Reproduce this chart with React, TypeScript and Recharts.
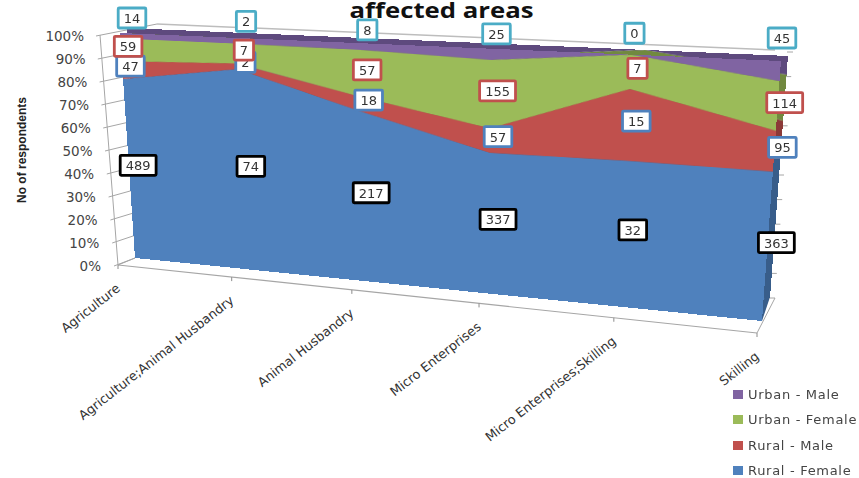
import React from 'react';
import { AreaChart, Area, XAxis, YAxis, Legend } from 'recharts';

const categories = [
  'Agriculture',
  'Agriculture;Animal Husbandry',
  'Animal Husbandry',
  'Micro Enterprises',
  'Micro Enterprises;Skilling',
  'Skilling',
];
const ruralFemale = [489, 74, 217, 337, 32, 363];
const ruralMale = [47, 2, 18, 57, 15, 95];
const urbanFemale = [59, 7, 57, 155, 7, 114];
const urbanMale = [14, 2, 8, 25, 0, 45];
const percentTicks = [0, 0.1, 0.2, 0.3, 0.4, 0.5, 0.6, 0.7, 0.8, 0.9, 1];

const seriesNames = ['Rural - Female', 'Rural - Male', 'Urban - Female', 'Urban - Male'];
const seriesValues = [ruralFemale, ruralMale, urbanFemale, urbanMale];
const seriesColors = ['#4F81BD', '#C0504D', '#9BBB59', '#8064A2'];
const sideColors = ['#385D8A', '#8C3A38', '#71893F', '#5E4A7E'];
const labelBorders = ['#000000', '#4F81BD', '#C0504D', '#4BACC6'];

const data = categories.map((name, i) => ({
  name,
  s0: ruralFemale[i],
  s1: ruralMale[i],
  s2: urbanFemale[i],
  s3: urbanMale[i],
}));

// the flat chart gets bent onto these corners (tl, tr, br, bl) to fake Excel's 3D look
const PW = 600;
const PH = 300;
const frontQuad = [120, 33, 781, 61, 762, 321, 135, 258];
const backQuad = [127, 28, 788, 56, 770, 298, 142, 250];

function homography(q: number[]) {
  const [x0, y0, x1, y1, x2, y2, x3, y3] = q;
  const dx1 = x1 - x2, dx2 = x3 - x2, sx = x0 - x1 + x2 - x3;
  const dy1 = y1 - y2, dy2 = y3 - y2, sy = y0 - y1 + y2 - y3;
  const den = dx1 * dy2 - dx2 * dy1;
  const g = (sx * dy2 - dx2 * sy) / den;
  const h = (dx1 * sy - sx * dy1) / den;
  return {
    a: x1 - x0 + g * x1, b: x3 - x0 + h * x3, c: x0,
    d: y1 - y0 + g * y1, e: y3 - y0 + h * y3, f: y0,
    g, h,
  };
}

function cssMatrix(q: number[]) {
  const m = homography(q);
  const v = [
    m.a / PW, m.d / PW, 0, m.g / PW,
    m.b / PH, m.e / PH, 0, m.h / PH,
    0, 0, 1, 0,
    m.c, m.f, 0, 1,
  ];
  return `matrix3d(${v.join(',')})`;
}

function project(u: number, v: number) {
  const m = homography(frontQuad);
  const w = m.g * u + m.h * v + 1;
  return { x: (m.a * u + m.b * v + m.c) / w, y: (m.d * u + m.e * v + m.f) / w };
}

const font = '"DejaVu Sans", sans-serif';

const FlatAreas = ({ colors, quad }: { colors: string[]; quad: number[] }) => (
  <div style={{ position: 'absolute', left: 0, top: 0, width: PW, height: PH, transformOrigin: '0 0', transform: cssMatrix(quad) }}>
    <AreaChart width={PW} height={PH} data={data} stackOffset="expand" margin={{ top: 0, right: 0, bottom: 0, left: 0 }}>
      <XAxis dataKey="name" hide />
      <YAxis hide domain={[0, 1]} />
      {seriesNames.map((n, i) => (
        <Area key={n} type="linear" dataKey={`s${i}`} stackId="a" fill={colors[i]} fillOpacity={1} stroke="none" isAnimationActive={false} dot={false} activeDot={false} />
      ))}
    </AreaChart>
  </div>
);

// y axis tick: label, left wall line and the little tick on the right wall
const PercentTick = (props: any) => {
  const { y, payload } = props;
  const k = (y - 35) / 230;
  const ax = 100 + 18 * k;
  const bx = 157 - 22 * k;
  const by = 24 + 234 * k;
  const ry = 298 - 246 * (1 - k);
  const rx = 775 + 18 * (1 - k);
  return (
    <g>
      <line x1={ax - 4} y1={y + 1} x2={bx} y2={by} stroke="#a6a6a6" strokeWidth={1} />
      <line x1={rx - 6} y1={ry} x2={rx} y2={ry} stroke="#a6a6a6" strokeWidth={1} />
      <text x={84 + 17 * k} y={y + 6} textAnchor="end" fontFamily={font} fontSize={13.5} fill="#444">
        {`${Math.round(payload.value * 100)}%`}
      </text>
    </g>
  );
};

const CategoryTick = (props: any) => {
  const { index, payload } = props;
  const u = index / (categories.length - 1);
  const t = u / (u + (1 - u) * 1.155);
  const x = 118 + 639 * t;
  const y = 265 + 68 * t;
  return (
    <g>
      <line x1={x} y1={y} x2={x} y2={y + 4} stroke="#8c8c8c" strokeWidth={1} />
      <text transform={`translate(${x + 3},${y + 25}) rotate(-38)`} textAnchor="end" fontFamily={font} fontSize={12.8} fill="#333">
        {payload.value}
      </text>
    </g>
  );
};

const labelShift = [{ dx: 9, dy: -5 }, { dx: 8, dy: -4 }, { dx: 7, dy: -3.5 }, { dx: 12, dy: 1 }];

const renderLabel = (series: number) => (props: any) => {
  const i = props.index;
  const u = i / (categories.length - 1);
  const text = seriesValues[series][i];
  const total = seriesValues.reduce((sum, s) => sum + s[i], 0);
  const below = seriesValues.slice(0, series).reduce((sum, s) => sum + s[i], 0);
  const top = series === 3;
  const mid = top ? 1 : (below + text / 2) / total;
  const p = project(u, 1 - mid);
  const cx = p.x + labelShift[series].dx - (top ? 11 * u : 0);
  // the top row rides above the back edge, a little lower in the middle of the chart
  const rail = top ? -14 - 8 * u + (Math.abs(u - 0.5) < 0.2 ? 3 : -2) : 0;
  const cy = p.y + labelShift[series].dy + rail;
  const w = String(text).length * 8.3 + 11;
  const h = 20;
  return (
    <g key={`${series}-${i}`}>
      <rect x={cx - w / 2} y={cy - h / 2} width={w} height={h} rx={1} fill="#fff" stroke={labelBorders[series]} strokeWidth={2.8} />
      <text x={cx} y={cy + 5} textAnchor="middle" fontFamily={font} fontSize={13} fill="#333">
        {text}
      </text>
    </g>
  );
};

const LegendBox = ({ payload }: any) => (
  <div>
    {[...(payload || [])].reverse().map((item: any) => (
      <div key={item.value} style={{ display: 'flex', alignItems: 'center', height: 25.3, fontFamily: font, fontSize: 13, letterSpacing: 0.7, color: '#444', whiteSpace: 'nowrap' }}>
        <span style={{ display: 'inline-block', width: 10, height: 9, marginRight: 5, background: item.color }} />
        {item.value}
      </div>
    ))}
  </div>
);

export default function App() {
  return (
    <div style={{ position: 'absolute', left: 0, top: 0, width: 859, height: 478, overflow: 'hidden', background: '#fff' }}>
      {/* walls, floor, axes and titles sit behind the bent areas */}
      <div style={{ position: 'absolute', left: 0, top: 0 }}>
        <AreaChart width={859} height={478} data={data} stackOffset="expand" margin={{ top: 35, right: 50, bottom: 183, left: 60 }}>
          <XAxis dataKey="name" height={30} interval={0} axisLine={false} tickLine={false} tick={<CategoryTick />} />
          <YAxis width={40} domain={[0, 1]} ticks={percentTicks} interval={0} axisLine={false} tickLine={false} tick={<PercentTick />} />
          {seriesNames.map((n, i) => (
            <Area key={n} type="linear" dataKey={`s${i}`} stackId="a" fill="none" stroke="none" isAnimationActive={false} dot={false} activeDot={false} />
          ))}
          <line x1={100} y1={35} x2={118} y2={265} stroke="#a6a6a6" />
          <line x1={157} y1={24} x2={775} y2={50} stroke="#bdbdbd" strokeWidth={1.5} />
          <line x1={118} y1={265} x2={757} y2={333} stroke="#a6a6a6" strokeWidth={1.2} />
          <line x1={118} y1={265} x2={135} y2={258} stroke="#a6a6a6" />
          <line x1={757} y1={333} x2={775} y2={298} stroke="#a6a6a6" />
          {/* bottom of the side face, where it tapers into the floor */}
          <polygon points="770,297 762,321 755,300" fill={sideColors[0]} />
          <text x={441.5} y={18} textAnchor="middle" textLength={184} lengthAdjust="spacingAndGlyphs" fontFamily='"Open Sans", sans-serif' fontWeight={700} fontSize={22} fill="#111">
            affected areas
          </text>
          <text transform="translate(26,150) rotate(-90)" textAnchor="middle" textLength={106} lengthAdjust="spacingAndGlyphs" fontFamily='"Liberation Sans Narrow", "Liberation Sans", sans-serif' fontWeight={700} fontSize={13} fill="#222">
            No of respondents
          </text>
        </AreaChart>
      </div>

      <FlatAreas colors={sideColors} quad={backQuad} />
      <FlatAreas colors={seriesColors} quad={frontQuad} />

      {/* data labels and legend stay flat on top */}
      <div style={{ position: 'absolute', left: 0, top: 0 }}>
        <AreaChart width={859} height={478} data={data} stackOffset="expand" margin={{ top: 35, right: 50, bottom: 183, left: 60 }}>
          <XAxis dataKey="name" hide />
          <YAxis hide domain={[0, 1]} />
          <Legend content={<LegendBox />} layout="vertical" wrapperStyle={{ position: 'absolute', left: 733, top: 382, width: 126, height: 100 }} />
          {seriesNames.map((n, i) => (
            <Area key={n} name={n} type="linear" dataKey={`s${i}`} stackId="a" fill={seriesColors[i]} fillOpacity={0} stroke="none" isAnimationActive={false} dot={false} activeDot={false} label={renderLabel(i)} />
          ))}
        </AreaChart>
      </div>
    </div>
  );
}
